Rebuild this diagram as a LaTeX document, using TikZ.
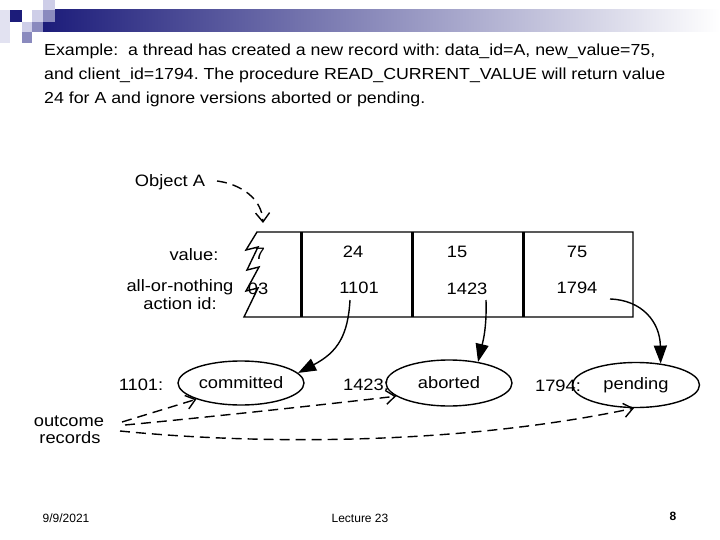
\documentclass[tikz,border=0pt]{standalone}
\usepackage{fontspec}
\setmainfont{Liberation Sans}
\newfontfamily\widesans[FakeStretch=1.11]{Liberation Sans}
\usetikzlibrary{shapes.geometric,arrows.meta}
\definecolor{navy}{RGB}{28,28,122}
\definecolor{midsq}{RGB}{138,138,190}
\definecolor{lightsq}{RGB}{206,206,232}
\frenchspacing
\begin{document}
\begin{tikzpicture}[x=1pt,y=-1pt,
  every node/.style={inner sep=0pt},
  body/.style={anchor=base west, font=\widesans\fontsize{16}{18}\selectfont},
  lbl/.style={anchor=base, font=\widesans\fontsize{16.5}{18}\selectfont},
  foot/.style={anchor=base, font=\fontsize{12}{14}\selectfont},
  outcome/.style={draw, line width=1.4pt, ellipse, minimum width=126pt, minimum height=44pt, font=\widesans\fontsize{16.5}{18}\selectfont},
  solidarr/.style={line width=1.4pt, -{Triangle[length=18pt,width=13pt]}},
  dasharr/.style={line width=1.4pt, dash pattern=on 10pt off 6pt, -{Straight Barb[length=9pt,width=14pt,line width=1.4pt]}},
  thickdiv/.style={line width=3pt}
]
\useasboundingbox (0,0) rectangle (720,540);
% header decoration
\shade[left color=navy, right color=white] (43,10) rectangle (720,32);
\fill[lightsq!60] (0,10) rectangle (10,43);
\fill[navy] (10,10) rectangle (22,22);
\fill[lightsq] (32,10) rectangle (43,22);
\fill[lightsq] (43,0) rectangle (55,10);
\fill[midsq] (43,10) rectangle (55,22);
\fill[lightsq] (22,22) rectangle (32,32);
\fill[midsq] (32,22) rectangle (43,32);
\fill[midsq] (22,32) rectangle (32,43);
% title text
\node[body] (l1) at (44,56) {Example:\ \ a thread has created a new record with: data\_id=A, new\_value=75,};
\node[body] (l2) at (44,80) {and client\_id=1794. The procedure READ\_CURRENT\_VALUE will return value};
\node[body] (l3) at (44,104) {24 for A and ignore versions aborted or pending.};
% record
\draw[line width=1.4pt] (257,232) -- (633,232) -- (633,317) -- (244,317)
  -- (258,288) -- (246,291) -- (259,267) -- (247,270) -- (258,247) -- (246,250) -- cycle;
\draw[thickdiv] (301,232) -- (301,317);
\draw[thickdiv] (412,232) -- (412,317);
\draw[thickdiv] (523,232) -- (523,317);
% labels
\node[lbl] (obj) at (170,187) {Object A};
\node[lbl] (vallbl) at (194,260) {value:};
\node[lbl] (aon) at (180,291) {all-or-nothing};
\node[lbl] (aid) at (180,309) {action id:};
\node[lbl] (v7) at (260,259) {7};
\node[lbl] (a03) at (258,294) {03};
\node[lbl] (v24) at (353,258) {24};
\node[lbl] (a1101) at (359,293) {1101};
\node[lbl] (v15) at (457,258) {15};
\node[lbl] (a1423) at (467,294) {1423};
\node[lbl] (v75) at (577,258) {75};
\node[lbl] (a1794) at (577,293) {1794};
% outcome records
\node[lbl] (k1101) at (141,390) {1101:};
\node[lbl] (k1423) at (366,390) {1423:};
\node[lbl] (k1794) at (558,391) {1794:};
\node[outcome] (comm) at (241,383) {committed};
\node[outcome, minimum height=46pt] (abort) at (449,383) {aborted};
\node[outcome, minimum width=127pt, minimum height=45pt] (pend) at (636,385) {pending};
\node[lbl] (oc) at (69,426) {outcome};
\node[lbl] (rec) at (70,443) {records};
% footer
\node[foot] (date) at (66,522) {9/9/2021};
\node[foot] (lec) at (360,522) {Lecture 23};
\node[foot, font=\fontsize{12}{14}\selectfont\bfseries] (pg) at (673,520) {8};
% connectors
\coordinate (objend) at (217,181);
\coordinate (objtip) at (263,223);
\draw[dasharr] (objend) .. controls (240,184) and (262,198) .. (objtip);
\coordinate (s1101) at (350,300);
\coordinate (s1423) at (486,300);
\coordinate (s1794) at (610,299);
\draw[solidarr] (s1101) .. controls (348,335) and (338,352) .. (comm.10);
\draw[solidarr] (s1423) .. controls (487,330) and (482,345) .. (abort.36);
\draw[solidarr] (s1794) .. controls (642,300) and (660,322) .. (pend.41);
\coordinate (o1) at (122,422);
\coordinate (o2) at (125,425);
\coordinate (o3) at (120,431);
\draw[dasharr] (o1) -- (comm.200);
\draw[dasharr] (o2) .. controls (200,418) and (330,404) .. (abort.194);
\draw[dasharr] (o3) .. controls (260,445) and (460,445) .. (pend.265);
\end{tikzpicture}
\end{document}
